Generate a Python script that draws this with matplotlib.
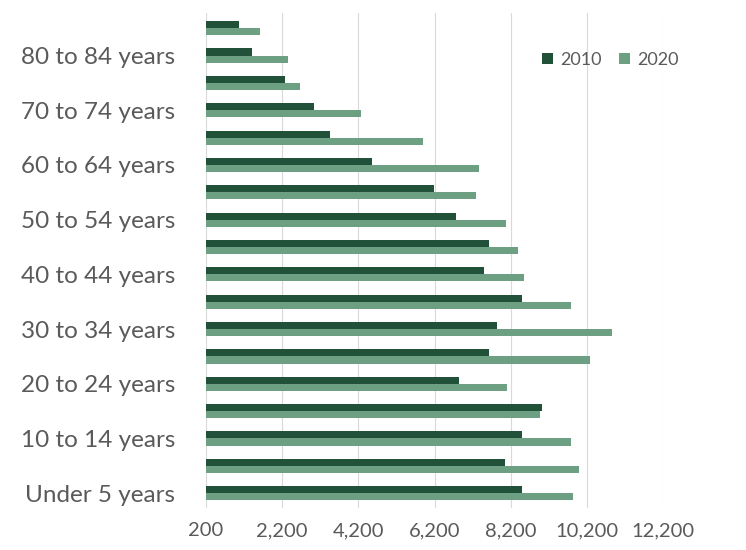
import numpy as np
import matplotlib.pyplot as plt

plt.rcParams['font.family'] = ['Lato', 'DejaVu Sans']

ages = ['Under 5 years', '5 to 9 years', '10 to 14 years', '15 to 19 years',
        '20 to 24 years', '25 to 29 years', '30 to 34 years', '35 to 39 years',
        '40 to 44 years', '45 to 49 years', '50 to 54 years', '55 to 59 years',
        '60 to 64 years', '65 to 69 years', '70 to 74 years', '75 to 79 years',
        '80 to 84 years', '85 years and over']
pop_2010 = [8495, 8050, 8495, 9030, 6850, 7620, 7830, 8495, 7505, 7620,
            6765, 6195, 4565, 3465, 3035, 2265, 1400, 1065]
pop_2020 = [9835, 9990, 9780, 8970, 8100, 10270, 10865, 9780, 8540, 8380,
            8065, 7290, 7365, 5905, 4260, 2670, 2345, 1620]
x_ticks = [200, 2200, 4200, 6200, 8200, 10200, 12200]

dark = '#22513a'
light = '#6d9f83'
grey = '#5a5a5a'

fig = plt.figure(figsize=(7.46, 5.5), dpi=100)
ax = fig.add_axes([0.276, 0.076, 0.613, 0.90])

y = np.arange(len(ages))
h = 0.26
ax.barh(y + h / 2, np.array(pop_2010) - 200, h, left=200, color=dark, label='2010')
ax.barh(y - h / 2, np.array(pop_2020) - 200, h, left=200, color=light, label='2020')

ax.set_xlim(200, 12200)
ax.set_ylim(-0.55, len(ages) - 0.45)
ax.set_xticks(x_ticks)
ax.set_xticklabels([f'{v:,}' for v in x_ticks], fontsize=14.5, color=grey)
ax.set_yticks(y[::2])
ax.set_yticklabels(ages[::2], fontsize=17.5, color=grey)
ax.tick_params(length=0)
ax.tick_params(axis='y', pad=22)
ax.tick_params(axis='x', pad=10)

ax.grid(axis='x', color='#d9d9d9', linewidth=0.8)
ax.set_axisbelow(True)
for s in ax.spines.values():
    s.set_visible(False)

leg = ax.legend(loc='upper right', bbox_to_anchor=(1.07, 0.955), ncol=2, frameon=False,
                fontsize=13, handlelength=0.6, handleheight=0.6, columnspacing=1.0,
                handletextpad=0.4)
for t in leg.get_texts():
    t.set_color(grey)

fig.savefig('out.png')
